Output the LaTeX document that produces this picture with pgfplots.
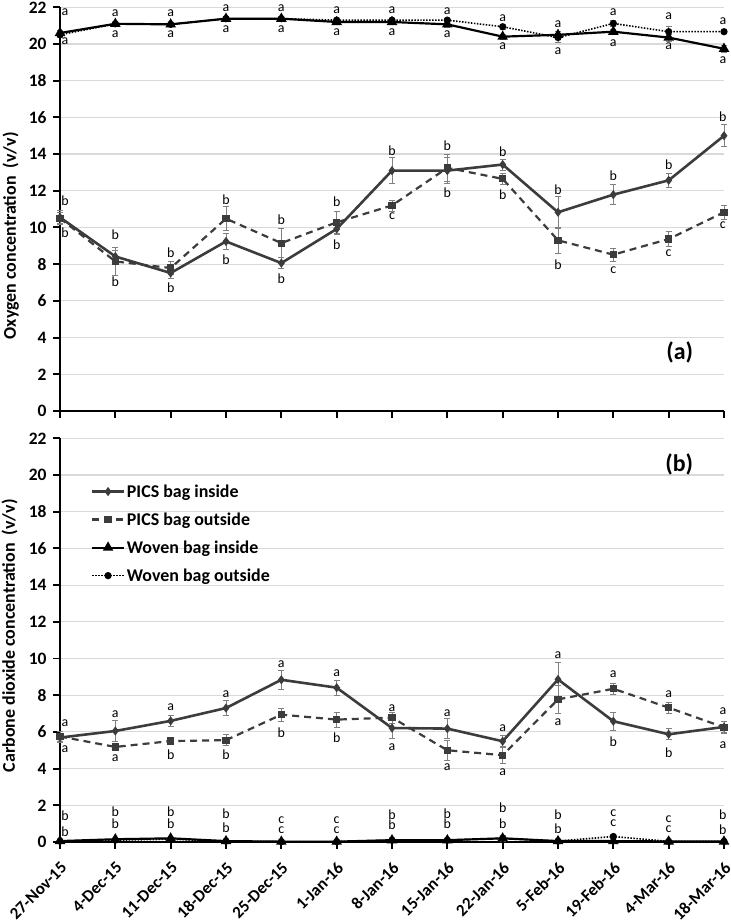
\documentclass[border=0pt]{standalone}
\usepackage{fontspec}
\setmainfont{Carlito}
\usepackage{pgfplots}
\pgfplotsset{compat=1.18}
\usepackage{pgfplotstable}

\definecolor{pics}{HTML}{3C3C3C}
\definecolor{gridc}{HTML}{D9D9D9}

% oxygen, panel (a)
\pgfplotstableread{
x pin pinE pout poutE win winE wout woutE
0 10.55 0.40 10.50 0.30 20.60 0.15 20.50 0.15
1 8.42 0.35 8.15 0.75 21.10 0.10 21.10 0.10
2 7.52 0.30 7.79 0.35 21.07 0.10 21.07 0.10
3 9.24 0.45 10.48 0.65 21.38 0.10 21.38 0.10
4 8.06 0.30 9.15 0.80 21.38 0.10 21.38 0.10
5 9.92 0.30 10.28 0.60 21.20 0.15 21.30 0.10
6 13.10 0.70 11.20 0.30 21.20 0.15 21.30 0.10
7 13.10 0.70 13.25 0.75 21.07 0.15 21.30 0.10
8 13.43 0.30 12.65 0.30 20.40 0.15 20.94 0.15
9 10.83 0.85 9.30 0.70 20.50 0.20 20.35 0.25
10 11.79 0.55 8.52 0.35 20.67 0.15 21.12 0.15
11 12.57 0.40 9.37 0.40 20.35 0.20 20.67 0.30
12 15.00 0.60 10.83 0.40 19.74 0.20 20.67 0.10
}\otwo

% carbon dioxide, panel (b)
\pgfplotstableread{
x pin pinE pout poutE win winE wout woutE
0 5.69 0.20 5.75 0.30 0.05 0.02 0.05 0.02
1 6.05 0.57 5.18 0.20 0.15 0.05 0.10 0.05
2 6.60 0.30 5.50 0.20 0.20 0.05 0.15 0.05
3 7.30 0.40 5.55 0.30 0.05 0.02 0.05 0.02
4 8.84 0.50 6.94 0.35 0.02 0.02 0.02 0.02
5 8.41 0.40 6.67 0.40 0.02 0.02 0.02 0.02
6 6.21 0.55 6.78 0.30 0.10 0.05 0.10 0.05
7 6.18 0.55 5.00 0.55 0.10 0.05 0.10 0.05
8 5.49 0.30 4.73 0.45 0.20 0.15 0.20 0.10
9 8.86 0.95 7.77 0.75 0.05 0.02 0.05 0.02
10 6.58 0.50 8.35 0.30 0.05 0.02 0.30 0.10
11 5.87 0.30 7.32 0.30 0.03 0.02 0.03 0.02
12 6.27 0.30 6.25 0.35 0.03 0.02 0.03 0.02
}\coo

\pgfplotsset{
  picsin/.style={pics, line width=2.6pt, mark=diamond*, mark size=2.5pt, mark options={solid, fill=pics}},
  picsout/.style={pics, line width=2.2pt, dash pattern=on 7pt off 5pt, mark=square*, mark size=2.5pt, mark options={solid}},
  wovin/.style={black, line width=2.2pt, mark=triangle*, mark size=4pt, mark options={solid}},
  wovout/.style={black, line width=1.6pt, dash pattern=on 1.5pt off 1.5pt, mark=*, mark size=2.8pt, mark options={solid}},
  errs/.style={error bars/y dir=both, error bars/y explicit,
    error bars/error bar style={gray, line width=0.7pt, solid},
    error bars/error mark options={rotate=90, gray, mark size=3pt, line width=0.7pt, solid}},
  panel/.style={
    scale only axis, width=664bp, height=403.7bp,
    xmin=0, xmax=12, ymin=0, ymax=22,
    xtick={0,...,12}, ytick={0,2,...,22},
    axis lines*=left,
    axis line style={-, black, line width=2.2pt},
    tick style={black, line width=2pt},
    major tick length=7pt, tick align=outside,
    ymajorgrids, grid style={gridc, line width=1.2pt},
    /pgf/number format/assume math mode=true,
    yticklabel style={font=\bfseries\fontsize{17.5}{17.5}\selectfont, xshift=-3pt},
    ylabel style={font=\bfseries\fontsize{18}{18}\selectfont},
    clip=false,
  },
}
\tikzset{lbl/.style={font=\fontsize{14}{14}\selectfont, inner sep=0pt, anchor=center}}
\newcommand{\lb}[3]{\node[lbl] at (axis cs:#1,#2) {#3};}

\begin{document}
\begin{tikzpicture}
\useasboundingbox (0,0) rectangle (731bp,922bp);

\begin{axis}[panel, at={(60bp,511bp)}, anchor=south west,
  xticklabels={},
  ylabel={Oxygen concentration\ \ (v/v)},
  ylabel style={at={(axis description cs:-0.074,0.434)}, anchor=center},
]
\addplot[wovout, errs] table[x=x, y=wout, y error=woutE] {\otwo};
\addplot[wovin, errs] table[x=x, y=win, y error=winE] {\otwo};
\addplot[picsout, errs] table[x=x, y=pout, y error=poutE] {\otwo};
\addplot[picsin, errs] table[x=x, y=pin, y error=pinE] {\otwo};

\lb{0.09}{21.72}{a}\lb{0.09}{20.16}{a}
\lb{1}{21.67}{a}\lb{1}{20.52}{a}
\lb{2}{21.67}{a}\lb{2}{20.52}{a}
\lb{3}{21.93}{a}\lb{3}{20.83}{a}
\lb{4}{21.93}{a}\lb{4}{20.83}{a}
\lb{5}{21.85}{a}\lb{5}{20.62}{a}
\lb{6}{21.85}{a}\lb{6}{20.62}{a}
\lb{7}{21.80}{a}\lb{7}{20.52}{a}
\lb{8}{21.43}{a}\lb{8}{19.89}{a}
\lb{9}{21.07}{a}\lb{9}{19.61}{a}
\lb{10}{21.76}{a}\lb{10}{20.07}{a}
\lb{11}{21.49}{a}\lb{11}{19.89}{a}
\lb{11.98}{21.22}{a}\lb{11.98}{19.10}{a}

\lb{0.09}{11.46}{b}\lb{0.09}{9.72}{b}
\lb{1}{9.61}{b}\lb{1}{7.06}{b}
\lb{2}{8.61}{b}\lb{2}{6.70}{b}
\lb{3}{11.52}{b}\lb{3}{8.24}{b}
\lb{4}{10.43}{b}\lb{4}{7.20}{b}
\lb{5}{11.39}{b}\lb{5}{9.06}{b}
\lb{6}{14.21}{b}\lb{6}{10.60}{c}
\lb{7}{14.48}{b}\lb{7}{11.88}{b}
\lb{8}{14.15}{b}\lb{8}{11.79}{b}
\lb{9}{12.06}{b}\lb{9}{7.97}{b}
\lb{10}{12.84}{b}\lb{10}{7.66}{c}
\lb{11}{13.43}{b}\lb{11}{8.61}{c}
\lb{11.98}{16.03}{b}\lb{11.98}{10.15}{c}

\node[font=\bfseries\fontsize{24}{24}\selectfont] at (axis cs:11.2,3.2) {(a)};
\end{axis}

\begin{axis}[panel, at={(60bp,80bp)}, anchor=south west,
  xticklabels={27-Nov-15,4-Dec-15,11-Dec-15,18-Dec-15,25-Dec-15,1-Jan-16,8-Jan-16,15-Jan-16,22-Jan-16,5-Feb-16,19-Feb-16,4-Mar-16,18-Mar-16},
  xticklabel style={font=\bfseries\fontsize{17}{17}\selectfont, inner sep=0pt, xshift=4pt, yshift=-16pt, rotate=45, anchor=east},
  ylabel={Carbone dioxide concentration\ \ (v/v)},
  ylabel style={at={(axis description cs:-0.076,0.511)}, anchor=center},
  legend style={at={(axis cs:0.56,19.6)}, anchor=north west, draw=none, fill=none,
    font=\bfseries\fontsize{18}{18}\selectfont, row sep=10pt, inner sep=0pt},
  legend cell align=left,
  legend image code/.code={\draw[mark repeat=2, mark phase=2, #1] plot coordinates {(0cm,0cm)(0.55cm,0cm)(1.1cm,0cm)};},
]
\addplot[picsin, errs] table[x=x, y=pin, y error=pinE] {\coo};
\addlegendentry{PICS bag inside}
\addplot[picsout, errs] table[x=x, y=pout, y error=poutE] {\coo};
\addlegendentry{PICS bag outside}
\addplot[wovin, errs] table[x=x, y=win, y error=winE] {\coo};
\addlegendentry{Woven bag inside}
\addplot[wovout, errs] table[x=x, y=wout, y error=woutE] {\coo};
\addlegendentry{Woven bag outside}

\lb{0.09}{6.45}{a}\lb{0.09}{5.04}{a}\lb{0.09}{1.41}{b}\lb{0.09}{0.56}{b}
\lb{1}{6.99}{a}\lb{1}{4.55}{a}\lb{1}{1.65}{b}\lb{1}{0.98}{b}
\lb{2}{7.35}{a}\lb{2}{4.73}{b}\lb{2}{1.65}{b}\lb{2}{0.98}{b}
\lb{3}{8.04}{a}\lb{3}{4.73}{b}\lb{3}{1.52}{b}\lb{3}{0.76}{b}
\lb{4}{9.67}{a}\lb{4}{5.96}{b}\lb{4}{1.20}{c}\lb{4}{0.65}{c}
\lb{5}{9.20}{a}\lb{5}{5.69}{b}\lb{5}{1.20}{c}\lb{5}{0.65}{c}
\lb{6}{7.30}{a}\lb{6}{5.15}{a}\lb{6}{1.47}{b}\lb{6}{0.96}{b}
\lb{7}{7.03}{a}\lb{7}{4.09}{a}\lb{7}{1.52}{b}\lb{7}{0.98}{b}
\lb{8}{6.18}{a}\lb{8}{3.82}{a}\lb{8}{1.86}{b}\lb{8}{1.02}{b}
\lb{9}{10.16}{a}\lb{9}{6.54}{a}\lb{9}{1.47}{b}\lb{9}{0.74}{b}
\lb{10}{9.13}{a}\lb{10}{5.45}{b}\lb{10}{1.59}{c}\lb{10}{1.05}{c}
\lb{11}{8.08}{a}\lb{11}{4.85}{b}\lb{11}{1.23}{c}\lb{11}{0.69}{c}
\lb{11.98}{7.14}{a}\lb{11.98}{5.27}{a}\lb{11.98}{1.47}{b}\lb{11.98}{0.65}{b}

\node[font=\bfseries\fontsize{24}{24}\selectfont] at (axis cs:11.19,20.6) {(b)};
\end{axis}
\end{tikzpicture}
\end{document}
